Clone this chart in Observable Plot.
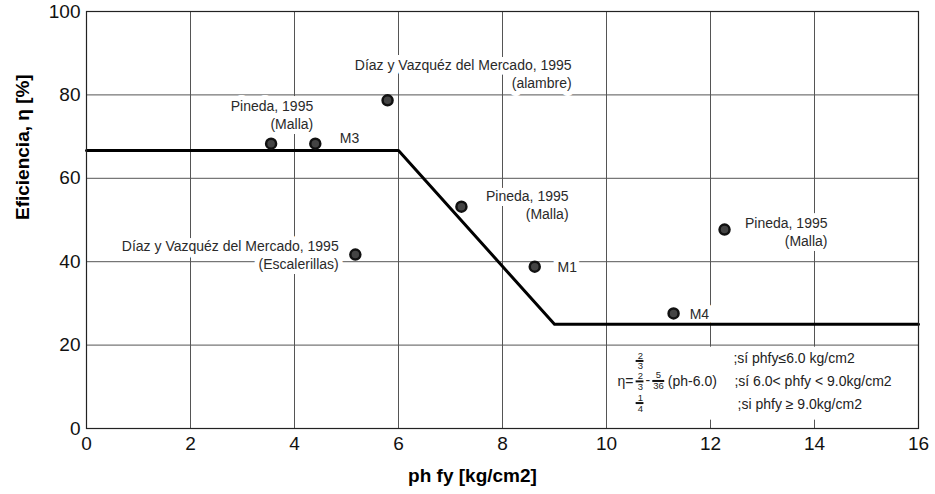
<!DOCTYPE html>
<html><head><meta charset="utf-8">
<script src="https://cdn.jsdelivr.net/npm/d3@7"></script>
<script src="https://cdn.jsdelivr.net/npm/@observablehq/plot@0.6"></script>
<style>body{margin:0;background:#fff}</style>
</head><body><div id="chart"></div>
<script>
// Experimental points
const pointX = [3.55, 4.4, 5.79, 7.21, 5.17, 8.62, 12.27, 11.29];
const pointY = [68.3, 68.3, 78.7, 53.2, 41.7, 38.8, 47.7, 27.6];
// Design curve
const curveX = [0, 6, 9, 16];
const curveY = [66.67, 66.67, 25, 25];
// Axis ticks
const xTicks = [0, 2, 4, 6, 8, 10, 12, 14, 16];
const yTicks = [0, 20, 40, 60, 80, 100];
const xTitle = "ph fy [kg/cm2]";
const yTitle = "Eficiencia, η [%]";
// Point annotations (anchor in data units)
const labelText = [
  "Pineda, 1995\n(Malla)",
  "M3",
  "Díaz y Vazquéz del Mercado, 1995\n(alambre)",
  "Pineda, 1995\n(Malla)",
  "Díaz y Vazquéz del Mercado, 1995\n(Escalerillas)",
  "M1",
  "Pineda, 1995\n(Malla)",
  "M4"
];
const labelX = [4.36, 4.87, 9.33, 9.27, 4.85, 9.06, 14.25, 11.6];
const labelY = [75.3, 69.8, 85.1, 53.7, 41.7, 38.8, 47.2, 27.6];
const labelAlign = ["end", "start", "end", "end", "end", "start", "end", "start"];
// Formula annotation
const formulaText = ["η=", "-", "(ph-6.0)", ";sí phfy≤6.0 kg/cm2", ";sí 6.0< phfy < 9.0kg/cm2", ";si phfy ≥ 9.0kg/cm2"];
const formulaX = [10.21, 10.75, 11.18, 12.44, 12.46, 12.52];
const formulaY = [11.27, 11.5, 11.27, 16.8, 11.27, 5.76];
const fracText = ["2", "3", "2", "3", "1", "4", "5", "36"];
const fracX = [10.65, 10.65, 10.65, 10.65, 10.65, 10.65, 11.0, 11.0];
const fracY = [17.4, 14.9, 12.5, 10.0, 7.3, 4.8, 12.8, 10.1];
const barX1 = [10.57, 10.57, 10.57, 10.89];
const barX2 = [10.72, 10.72, 10.72, 11.12];
const barY = [16.2, 11.3, 6.1, 11.4];
const formulaBox = [{x1: 10.15, x2: 15.7, y1: 2, y2: 19.5}];

const points = pointX.map((x, i) => ({x, y: pointY[i]}));
const curve = curveX.map((x, i) => ({x, y: curveY[i]}));
const labels = labelText.map((t, i) => ({t, x: labelX[i], y: labelY[i], a: labelAlign[i]}));
const formula = formulaText.map((t, i) => ({t, x: formulaX[i], y: formulaY[i]}));
const fracs = fracText.map((t, i) => ({t, x: fracX[i], y: fracY[i]}));
const bars = barY.map((y, i) => ({x1: barX1[i], x2: barX2[i], y}));

const font = "'Liberation Sans', Arial, sans-serif";
const halo = {stroke: "white", strokeWidth: 10, strokeLinejoin: "round"};

const chart = Plot.plot({
  width: 935,
  height: 494,
  marginLeft: 86,
  marginRight: 17,
  marginTop: 11,
  marginBottom: 66,
  style: {fontFamily: font, background: "white", color: "#111"},
  x: {domain: [0, 16], ticks: xTicks, label: null},
  y: {domain: [0, 100], ticks: yTicks, label: null},
  marks: [
    Plot.gridX(xTicks, {stroke: "#555", strokeOpacity: 1, strokeWidth: 1}),
    Plot.gridY(yTicks, {stroke: "#555", strokeOpacity: 1, strokeWidth: 1}),
    Plot.rect(formulaBox, {x1: "x1", x2: "x2", y1: "y1", y2: "y2", fill: "white"}),
    Plot.axisX(xTicks, {tickSize: 0, tickPadding: 8, fontSize: 19, label: null, fill: "#111"}),
    Plot.axisY(yTicks, {tickSize: 0, tickPadding: 6, fontSize: 19, label: null, fill: "#111"}),
    Plot.text(labels.filter(d => d.a === "end"), {x: "x", y: "y", text: "t", textAnchor: "end", fontSize: 14, lineHeight: 1.28, fill: "#2a2a2a", ...halo}),
    Plot.text(labels.filter(d => d.a === "start"), {x: "x", y: "y", text: "t", textAnchor: "start", fontSize: 14, lineHeight: 1.28, fill: "#2a2a2a", ...halo}),
    Plot.text(formula, {x: "x", y: "y", text: "t", textAnchor: "start", fontSize: 14, fill: "#222"}),
    Plot.text(fracs, {x: "x", y: "y", text: "t", textAnchor: "middle", fontSize: 9.5, fill: "#222"}),
    Plot.ruleY(bars, {x1: "x1", x2: "x2", y: "y", stroke: "#111", strokeWidth: 2}),
    Plot.line(curve, {x: "x", y: "y", stroke: "#000", strokeWidth: 3}),
    Plot.dot(points, {x: "x", y: "y", r: 5, fill: "#444", stroke: "#111", strokeWidth: 2.5}),
    Plot.frame({stroke: "#222", strokeWidth: 1.2}),
    Plot.text([xTitle], {frameAnchor: "bottom", dx: -30, dy: 53, fontSize: 19, fontWeight: "bold", fill: "#000"}),
    Plot.text([yTitle], {frameAnchor: "left", dx: -64, rotate: -90, fontSize: 19, fontWeight: "bold", fill: "#000"})
  ]
});
document.getElementById("chart").appendChild(chart);
</script>
</body></html>
